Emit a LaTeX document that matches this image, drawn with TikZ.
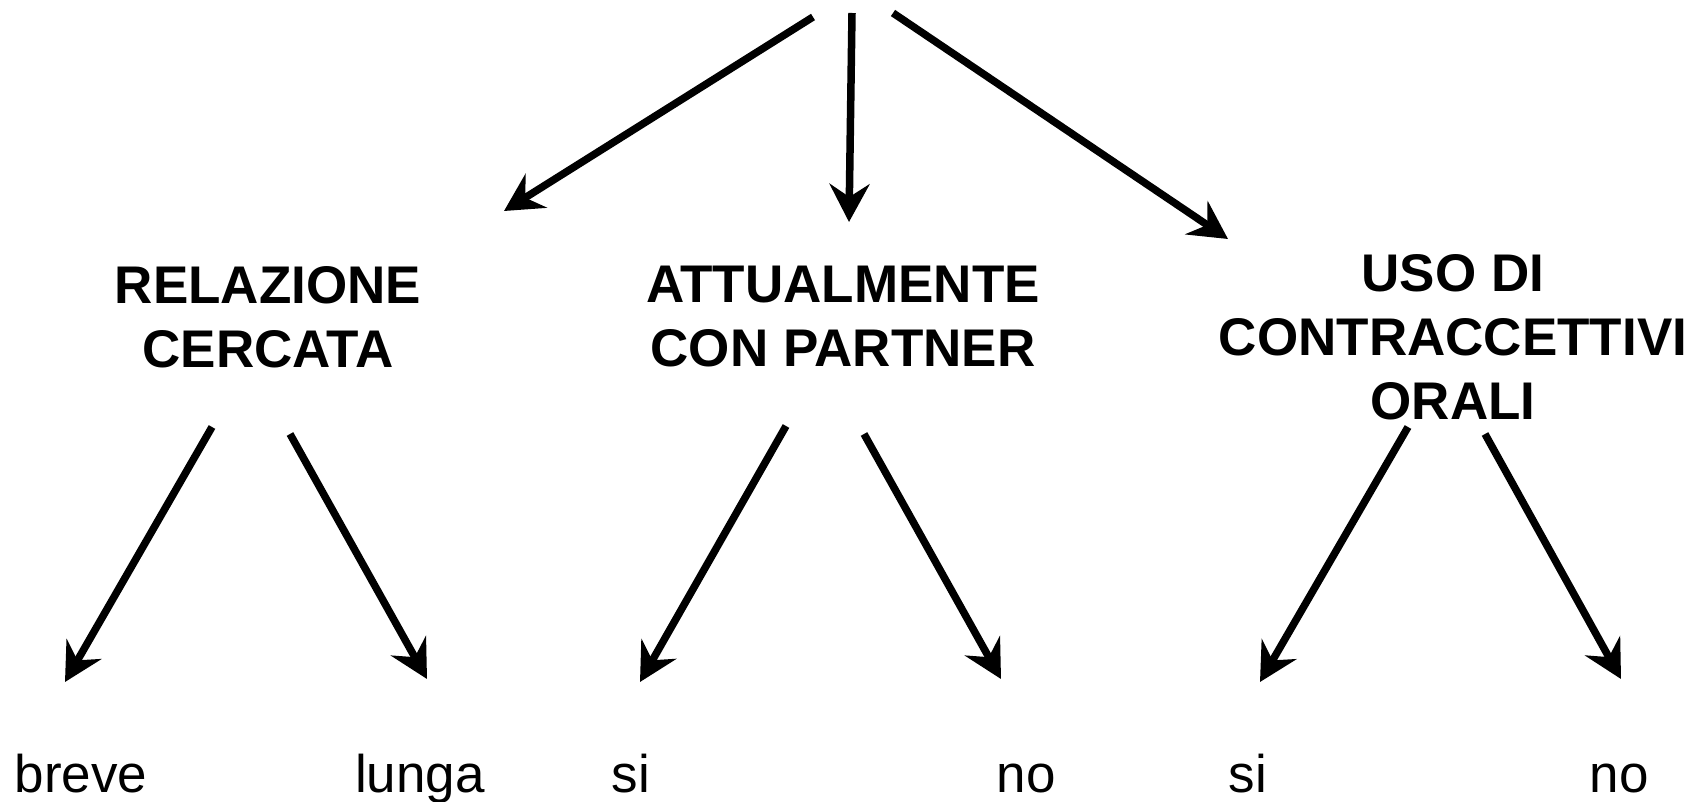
\documentclass[tikz,border=0pt]{standalone}
\usepackage{fontspec}
\setmainfont{Liberation Sans}
\usetikzlibrary{arrows.meta}
\tikzset{
  conn/.style={line width=7.5pt, -{Stealth[length=38pt,width=40pt,inset=13pt]}},
  head/.style={font=\fontsize{53}{64}\selectfont\bfseries, align=center, anchor=north, inner sep=0pt},
  leaf/.style={font=\fontsize{53}{64}\selectfont, anchor=base, inner sep=0pt}
}
\begin{document}
\begin{tikzpicture}[x=1pt,y=-1pt]
\useasboundingbox (0,0) rectangle (1698,802);
% top free ends
\coordinate (s1) at (813,17);
\coordinate (e1) at (504,211);
\coordinate (s2) at (852,13);
\coordinate (e2) at (849,222);
\coordinate (s3) at (893,13);
\coordinate (e3) at (1228,239);
% heading nodes
\node[head] (rel) at (268,266) {RELAZIONE\\CERCATA};
\node[head] (att) at (843,266) {ATTUALMENTE\\CON PARTNER};
\node[head] (uso) at (1453,254) {USO DI\\CONTRACCETTIVI\\ORALI};
% leaves
\node[leaf] (breve) at (81,792) {breve};
\node[leaf] (lunga) at (420,792) {lunga};
\node[leaf] (si1) at (631,792) {si};
\node[leaf] (no1) at (1026,792) {no};
\node[leaf] (si2) at (1248,792) {si};
\node[leaf] (no2) at (1619,792) {no};
% lower arrow ends
\coordinate (a1) at (212,427); \coordinate (b1) at (65,682);
\coordinate (a2) at (290,434); \coordinate (b2) at (427,679);
\coordinate (a3) at (786,426); \coordinate (b3) at (640,682);
\coordinate (a4) at (864,434); \coordinate (b4) at (1001,679);
\coordinate (a5) at (1408,427); \coordinate (b5) at (1260,682);
\coordinate (a6) at (1485,434); \coordinate (b6) at (1621,679);
\draw[conn] (s1) -- (e1);
\draw[conn] (s2) -- (e2);
\draw[conn] (s3) -- (e3);
\draw[conn] (a1) -- (b1);
\draw[conn] (a2) -- (b2);
\draw[conn] (a3) -- (b3);
\draw[conn] (a4) -- (b4);
\draw[conn] (a5) -- (b5);
\draw[conn] (a6) -- (b6);
\end{tikzpicture}
\end{document}
